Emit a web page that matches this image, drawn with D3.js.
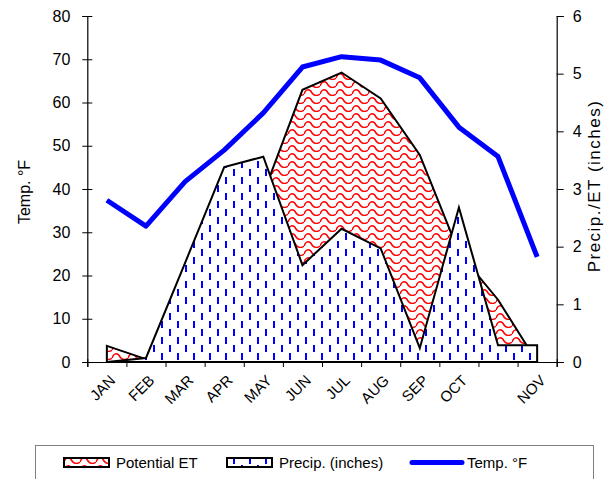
<!DOCTYPE html>
<html>
<head>
<meta charset="utf-8">
<script src="https://cdn.jsdelivr.net/npm/d3@7"></script>
<style>
  body { margin: 0; background: #fff; }
  svg { display: block; font-family: "Liberation Sans", Arial, sans-serif; }
</style>
</head>
<body>
<svg id="chart" width="605" height="479"></svg>
<script>
// values
const months = ['JAN', 'FEB', 'MAR', 'APR', 'MAY', 'JUN', 'JUL', 'AUG', 'SEP', 'OCT', '', 'NOV'];
const tempF = [37.4, 31.4, 41.7, 49.0, 57.6, 68.2, 70.6, 69.8, 65.7, 54.3, 47.5, 24.3];
const precip = [0.0, 0.07, 1.72, 3.38, 3.56, 1.68, 2.31, 1.97, 0.24, 2.68, 0.29, 0.29];
const potentialET = [0.28, 0.05, 1.0, 2.0, 2.92, 4.72, 5.02, 4.57, 3.59, 1.9, 1.08, 0.0];
const leftTicks = [0, 10, 20, 30, 40, 50, 60, 70, 80];
const rightTicks = [0, 1, 2, 3, 4, 5, 6];

const plot = {left: 87.3, right: 556.7, top: 16, bottom: 362};
const svg = d3.select('#chart');

const x = d3.scaleLinear().domain([0, months.length]).range([plot.left, plot.right]);
const yL = d3.scaleLinear().domain([0, 80]).range([plot.bottom, plot.top]);
const yR = d3.scaleLinear().domain([0, 6]).range([plot.bottom, plot.top]);
const cx = i => x(i + 0.5);

// patterns
const defs = svg.append('defs');
const pET = defs.append('pattern')
    .attr('id', 'etPat').attr('patternUnits', 'userSpaceOnUse')
    .attr('width', 16).attr('height', 8);
pET.append('rect').attr('width', 16).attr('height', 8).attr('fill', '#fff');
pET.append('path')
    .attr('d', 'M0,6 C2,0.5 6,0.5 8,5 C10,8 14,8 16,6')
    .attr('fill', 'none').attr('stroke', '#ff0000').attr('stroke-width', 1.5);

const pPr = defs.append('pattern')
    .attr('id', 'prPat').attr('patternUnits', 'userSpaceOnUse')
    .attr('width', 16).attr('height', 16);
pPr.append('rect').attr('width', 16).attr('height', 16).attr('fill', '#fff');
pPr.append('rect').attr('x', 1).attr('y', 1).attr('width', 2).attr('height', 7).attr('fill', '#0000ff');
pPr.append('rect').attr('x', 9).attr('y', 9).attr('width', 2).attr('height', 7).attr('fill', '#0000ff');

// axes
const axL = svg.append('g')
    .attr('transform', `translate(${plot.left},0)`)
    .call(d3.axisLeft(yL).tickValues(leftTicks).tickSize(5).tickPadding(12));
axL.selectAll('line').attr('x1', 5);

const axR = svg.append('g')
    .attr('transform', `translate(${plot.right},0)`)
    .call(d3.axisRight(yR).tickValues(rightTicks).tickFormat(d3.format('d')).tickSize(7).tickPadding(9));

const axB = svg.append('g')
    .attr('transform', `translate(0,${plot.bottom})`)
    .call(d3.axisBottom(x).tickValues(d3.range(months.length + 1)).tickSize(5).tickFormat(''));
axB.selectAll('line').attr('y1', -3);

svg.selectAll('.domain').attr('stroke', '#000').attr('stroke-width', 1.2);
svg.selectAll('.tick line').attr('stroke', '#000');
svg.selectAll('.tick text').attr('font-size', 16).attr('fill', '#000')
    .attr('font-family', '"Liberation Sans", Arial, sans-serif');

// month labels
svg.append('g').selectAll('text')
    .data(months)
    .join('text')
        .attr('transform', (d, i) => `translate(${cx(i) + 2},${plot.bottom + 12}) rotate(-45)`)
        .attr('text-anchor', 'end')
        .attr('dy', '0.7em')
        .attr('font-size', 15)
        .text(d => d);

// areas
const area = d3.area()
    .x((d, i) => cx(i))
    .y0(plot.bottom)
    .y1(d => yR(d));

svg.append('path')
    .datum(potentialET)
    .attr('d', d => area(d) + 'Z')
    .attr('fill', 'url(#etPat)')
    .attr('stroke', '#000').attr('stroke-width', 2).attr('stroke-linejoin', 'miter');

svg.append('path')
    .datum(precip)
    .attr('d', d => area(d) + 'Z')
    .attr('fill', 'url(#prPat)')
    .attr('stroke', '#000').attr('stroke-width', 2).attr('stroke-linejoin', 'miter');

// temperature line
svg.append('path')
    .datum(tempF)
    .attr('d', d3.line().x((d, i) => cx(i)).y(d => yL(d)))
    .attr('fill', 'none')
    .attr('stroke', '#0000ff')
    .attr('stroke-width', 5)
    .attr('stroke-linejoin', 'round');

// axis titles
svg.append('text')
    .attr('transform', `translate(30,${(plot.top + plot.bottom) / 2 + 3}) rotate(-90)`)
    .attr('text-anchor', 'middle')
    .attr('font-size', 16)
    .text('Temp. °F');

svg.append('text')
    .attr('transform', `translate(600,${(plot.top + plot.bottom) / 2 - 3}) rotate(-90)`)
    .attr('text-anchor', 'middle')
    .attr('font-size', 17)
    .attr('letter-spacing', 1.5)
    .text('Precip./ET (inches)');

// legend
const legend = svg.append('g');
legend.append('rect')
    .attr('x', 35.5).attr('y', 445.5).attr('width', 558).attr('height', 50)
    .attr('fill', '#fff').attr('stroke', '#808080');

const legendItems = [
    {label: 'Potential ET', kind: 'area', fill: 'url(#etPat)', x: 64},
    {label: 'Precip. (inches)', kind: 'area', fill: 'url(#prPat)', x: 227},
    {label: 'Temp. °F', kind: 'line', x: 412}
];
legendItems.forEach(it => {
    if (it.kind === 'area') {
        legend.append('rect')
            .attr('x', it.x).attr('y', 458).attr('width', 45).attr('height', 9)
            .attr('fill', it.fill).attr('stroke', '#000').attr('stroke-width', 2);
    } else {
        legend.append('line')
            .attr('x1', it.x).attr('x2', it.x + 50).attr('y1', 462.5).attr('y2', 462.5)
            .attr('stroke', '#0000ff').attr('stroke-width', 5).attr('stroke-linecap', 'round');
    }
    legend.append('text')
        .attr('x', it.x + (it.kind === 'area' ? 52 : 55))
        .attr('y', 467.5)
        .attr('font-size', 15)
        .text(it.label);
});
</script>
</body>
</html>
